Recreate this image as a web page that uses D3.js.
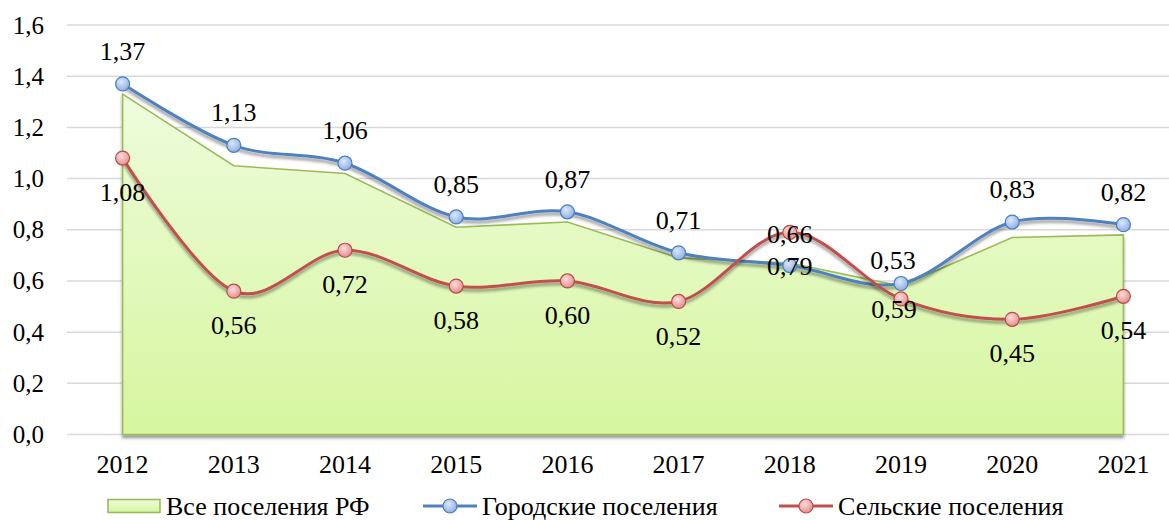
<!DOCTYPE html>
<html>
<head>
<meta charset="utf-8">
<script src="https://cdn.jsdelivr.net/npm/d3@7"></script>
<style>
  body { margin: 0; background: #fff; }
  svg { display: block; }
  svg text { font-family: "Liberation Serif", serif; }
</style>
</head>
<body>
<svg id="chart" width="1169" height="520" font-family="Liberation Serif"></svg>
<script>
const years = ['2012', '2013', '2014', '2015', '2016', '2017', '2018', '2019', '2020', '2021'];
const allSettlements = [1.33, 1.05, 1.02, 0.81, 0.83, 0.69, 0.67, 0.58, 0.77, 0.78];
const urban = [1.37, 1.13, 1.06, 0.85, 0.87, 0.71, 0.66, 0.59, 0.83, 0.82];
const rural = [1.08, 0.56, 0.72, 0.58, 0.60, 0.52, 0.79, 0.53, 0.45, 0.54];
// label texts as printed on the picture (2018/2019 are swapped there)
const urbanLabels = ['1,37', '1,13', '1,06', '0,85', '0,87', '0,71', '0,79', '0,53', '0,83', '0,82'];
const ruralLabels = ['1,08', '0,56', '0,72', '0,58', '0,60', '0,52', '0,66', '0,59', '0,45', '0,54'];
const yTicks = [0, 0.2, 0.4, 0.6, 0.8, 1.0, 1.2, 1.4, 1.6];
const seriesNames = ['Все поселения РФ', 'Городские поселения', 'Сельские поселения'];

const FONT = 'Liberation Serif';
const svg = d3.select('#chart');
const defs = svg.append('defs');

const x = d3.scaleBand().domain(years).range([67, 1179]);
const cx = d => x(d) + x.bandwidth() / 2;
const y = d3.scaleLinear().domain([0, 1.6]).range([434.5, 25]);
const fmt = v => v.toFixed(1).replace('.', ',');

// gradients and shadow
const areaGrad = defs.append('linearGradient')
    .attr('id', 'areaGrad').attr('x1', 0).attr('y1', 0).attr('x2', 0).attr('y2', 1);
areaGrad.append('stop').attr('offset', '0%').attr('stop-color', '#eefcdc');
areaGrad.append('stop').attr('offset', '100%').attr('stop-color', '#d6f69f');

function markerGrad(id, light, dark) {
    const g = defs.append('radialGradient').attr('id', id)
        .attr('cx', '40%').attr('cy', '35%').attr('r', '65%');
    g.append('stop').attr('offset', '0%').attr('stop-color', light);
    g.append('stop').attr('offset', '100%').attr('stop-color', dark);
}
markerGrad('blueMark', '#dde8f8', '#8eb0e4');
markerGrad('redMark', '#fbdcdb', '#e4908e');

const shadow = defs.append('filter').attr('id', 'shadow')
    .attr('x', '-5%').attr('y', '-20%').attr('width', '110%').attr('height', '140%');
shadow.append('feDropShadow')
    .attr('dx', 0).attr('dy', 3).attr('stdDeviation', 1.8)
    .attr('flood-color', '#000').attr('flood-opacity', 0.4);

// grid
svg.append('g')
    .selectAll('line')
    .data(yTicks)
    .join('line')
    .attr('x1', 67).attr('x2', 1169)
    .attr('y1', d => y(d)).attr('y2', d => y(d))
    .attr('stroke', '#d9d9d9').attr('stroke-width', 1.5);

// y axis labels
svg.append('g')
    .attr('transform', 'translate(44,0)')
    .call(d3.axisLeft(y).tickValues(yTicks).tickSize(0).tickPadding(0).tickFormat(fmt))
    .attr('font-family', FONT)
    .attr('font-size', 25)
    .call(g => g.select('.domain').remove())
    .call(g => g.selectAll('text').attr('fill', '#000'));

// x axis labels
svg.append('g')
    .attr('transform', 'translate(0,455)')
    .call(d3.axisBottom(x).tickSize(0).tickPadding(0))
    .attr('font-family', FONT)
    .attr('font-size', 26)
    .call(g => g.select('.domain').remove())
    .call(g => g.selectAll('text').attr('fill', '#000'));

// area series
const area = d3.area()
    .x((d, i) => cx(years[i]))
    .y0(y(0))
    .y1(d => y(d));
svg.append('path')
    .datum(allSettlements)
    .attr('d', area)
    .attr('fill', 'url(#areaGrad)')
    .attr('stroke', '#9bbb59')
    .attr('stroke-width', 1.6)
    .attr('filter', 'url(#shadow)');

const line = d3.line()
    .x((d, i) => cx(years[i]))
    .y(d => y(d))
    .curve(d3.curveCatmullRom.alpha(0));

function drawSeries(values, color, stroke, grad) {
    svg.append('path')
        .datum(values)
        .attr('d', line)
        .attr('fill', 'none')
        .attr('stroke', color)
        .attr('stroke-width', 3)
        .attr('filter', 'url(#shadow)');
    svg.append('g')
        .selectAll('circle')
        .data(values)
        .join('circle')
        .attr('cx', (d, i) => cx(years[i]))
        .attr('cy', d => y(d))
        .attr('r', 7)
        .attr('fill', `url(#${grad})`)
        .attr('stroke', stroke)
        .attr('stroke-width', 1.2);
}
drawSeries(urban, '#4f81bd', '#4a7ebb', 'blueMark');
drawSeries(rural, '#c0504d', '#b84b4a', 'redMark');

// data labels
const urbanShift = { '2018': [0, 0], '2019': [-8, -24] };
const ruralShift = { '2018': [0, 2], '2019': [-7, 10] };
function drawLabels(values, labels, defDy, shift) {
    svg.append('g')
        .attr('font-family', FONT)
        .attr('font-size', 26)
        .selectAll('text')
        .data(values)
        .join('text')
        .attr('x', (d, i) => cx(years[i]) + (shift[years[i]] ? shift[years[i]][0] : 0))
        .attr('y', (d, i) => y(d) + (shift[years[i]] ? shift[years[i]][1] : defDy))
        .attr('dy', '0.35em')
        .attr('text-anchor', 'middle')
        .attr('fill', '#000')
        .text((d, i) => labels[i]);
}
drawLabels(urban, urbanLabels, -33, urbanShift);
drawLabels(rural, ruralLabels, 34, ruralShift);

// legend
const legendY = 506;
const lg = svg.append('g').attr('font-family', FONT).attr('font-size', 26);
lg.append('rect')
    .attr('x', 108).attr('y', legendY - 6.5).attr('width', 52).attr('height', 13)
    .attr('fill', 'url(#areaGrad)').attr('stroke', '#9bbb59').attr('stroke-width', 1.6);
lg.append('text').attr('x', 166).attr('y', legendY).attr('dy', '0.35em').text(seriesNames[0]);

[[423, '#4f81bd', '#4a7ebb', 'blueMark', seriesNames[1]],
 [779, '#c0504d', '#b84b4a', 'redMark', seriesNames[2]]].forEach(([x0, color, stroke, grad, name]) => {
    lg.append('line')
        .attr('x1', x0).attr('x2', x0 + 54)
        .attr('y1', legendY).attr('y2', legendY)
        .attr('stroke', color).attr('stroke-width', 3);
    lg.append('circle')
        .attr('cx', x0 + 27).attr('cy', legendY).attr('r', 7)
        .attr('fill', `url(#${grad})`).attr('stroke', stroke).attr('stroke-width', 1.2);
    lg.append('text').attr('x', x0 + 59).attr('y', legendY).attr('dy', '0.35em').text(name);
});
</script>
</body>
</html>
